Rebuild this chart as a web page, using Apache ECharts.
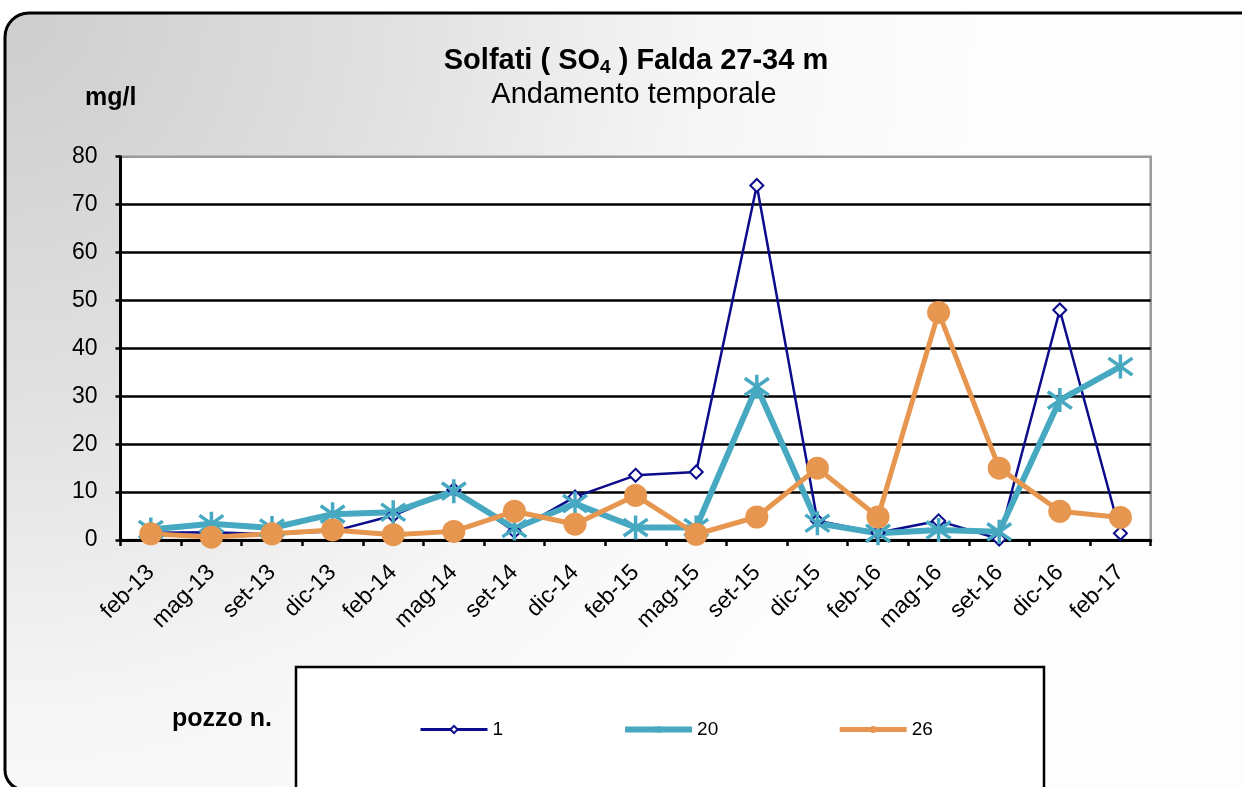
<!DOCTYPE html>
<html>
<head>
<meta charset="utf-8">
<title>Solfati Falda 27-34 m</title>
<script src="https://cdn.jsdelivr.net/npm/echarts@6/dist/echarts.min.js"></script>
<style>
    html, body { margin: 0; padding: 0; background: #fff; }
    #chart { width: 1242px; height: 787px; }
</style>
</head>
<body>
<div id="chart"></div>
<script>
// date di campionamento (asse X)
var categories = ['feb-13', 'mag-13', 'set-13', 'dic-13', 'feb-14', 'mag-14', 'set-14', 'dic-14',
    'feb-15', 'mag-15', 'set-15', 'dic-15', 'feb-16', 'mag-16', 'set-16', 'dic-16', 'feb-17'];

// solfati mg/l per pozzo
var pozzo1 = [1.5, 1.6, 1.2, 1.8, 5.1, 10.5, 1.8, 9, 13.5, 14.2, 74, 4, 1.5, 4, 0.2, 48, 1.4];
var pozzo20 = [2.2, 3.4, 2.5, 5.4, 5.8, 10.2, 2.4, 7.6, 2.6, 2.6, 32, 3.5, 1.4, 2.1, 1.7, 29.2, 36.2];
var pozzo26 = [1.3, 0.6, 1.3, 2.1, 1.1, 1.8, 6, 3.3, 9.3, 1.2, 4.8, 15, 4.8, 47.5, 15, 6, 4.7];

var yTicks = { min: 0, max: 80, step: 10 };

var FONT = '"Liberation Sans", Arial, sans-serif';
// asterisco (marker "star" di Excel)
var starPath = 'path://M10,0 L10,20 M0,3 L20,17 M0,17 L20,3';

var myChart = echarts.init(document.getElementById('chart'));

var option = {
    backgroundColor: '#ffffff',
    textStyle: { fontFamily: FONT, color: '#000' },
    animation: false,
    title: [
        {
            text: '{a|Solfati ( SO}{s|4}{a| ) Falda 27-34 m}',
            left: 636,
            top: 44,
            padding: 0,
            textAlign: 'center',
            textStyle: {
                rich: {
                    a: { fontSize: 29, fontWeight: 'bold', fontFamily: FONT, color: '#000', lineHeight: 33 },
                    s: { fontSize: 19, fontWeight: 'bold', fontFamily: FONT, color: '#000', lineHeight: 33, padding: [14, 0, 0, 0] }
                }
            }
        },
        {
            text: 'Andamento temporale',
            left: 634,
            top: 80,
            padding: 0,
            textAlign: 'center',
            textStyle: { fontSize: 29, fontWeight: 'normal', fontFamily: FONT, color: '#000' }
        },
        {
            text: 'mg/l',
            left: 85,
            top: 86,
            padding: 0,
            textStyle: { fontSize: 25, fontWeight: 'bold', fontFamily: FONT, color: '#000' }
        },
        {
            text: 'pozzo n.',
            left: 172,
            top: 707,
            padding: 0,
            textStyle: { fontSize: 25, fontWeight: 'bold', fontFamily: FONT, color: '#000' }
        }
    ],
    graphic: [
        {
            // cornice esterna con sfumatura grigia
            type: 'rect',
            z: -100,
            shape: { x: 5, y: 13, width: 1300, height: 777, r: [24, 0, 0, 20] },
            style: {
                fill: new echarts.graphic.RadialGradient(5, 13, 980, [
                    { offset: 0, color: '#cdcdcd' },
                    { offset: 0.4, color: '#e1e1e1' },
                    { offset: 0.72, color: '#f6f6f6' },
                    { offset: 1, color: '#fdfdfd' }
                ], true),
                stroke: '#000',
                lineWidth: 3
            }
        },
        {
            // riquadro legenda
            type: 'rect',
            z: -50,
            shape: { x: 296, y: 667, width: 748, height: 200 },
            style: { fill: '#fff', stroke: '#000', lineWidth: 2.5 }
        }
    ],
    legend: {
        left: 419,
        top: 720,
        itemWidth: 67,
        itemHeight: 9,
        itemGap: 119,
        padding: 0,
        textStyle: { fontSize: 19, fontFamily: FONT, color: '#000' },
        data: [
            { name: '1', lineStyle: { width: 3 } },
            { name: '20', lineStyle: { width: 6 } },
            { name: '26', lineStyle: { width: 5 } }
        ]
    },
    grid: {
        left: 120.5,
        top: 156.7,
        right: 91.3,
        bottom: 247,
        show: true,
        backgroundColor: '#fff',
        borderColor: '#9a9a9a',
        borderWidth: 2.5
    },
    xAxis: {
        type: 'category',
        data: categories,
        boundaryGap: true,
        axisLine: { lineStyle: { color: '#000', width: 3 } },
        axisTick: { show: true, length: 6, lineStyle: { color: '#000', width: 2.5 } },
        axisLabel: {
            rotate: 45,
            interval: 0,
            margin: 29,
            fontSize: 23,
            fontFamily: FONT,
            color: '#000'
        },
        splitLine: { show: false }
    },
    yAxis: {
        type: 'value',
        min: yTicks.min,
        max: yTicks.max,
        interval: yTicks.step,
        axisLine: { show: true, lineStyle: { color: '#000', width: 3 } },
        axisTick: { show: true, length: 5, lineStyle: { color: '#000', width: 2.5 } },
        axisLabel: { margin: 23, fontSize: 23, fontFamily: FONT, color: '#000' },
        splitLine: { show: true, showMaxLine: false, lineStyle: { color: '#000', width: 2.5 } }
    },
    series: [
        {
            name: '1',
            type: 'line',
            data: pozzo1,
            symbol: 'emptyDiamond',
            symbolSize: 13,
            lineStyle: { color: '#0b0b8c', width: 2.5 },
            itemStyle: { color: '#0b0b8c', borderColor: '#0b0b8c', borderWidth: 2.4 }
        },
        {
            name: '20',
            type: 'line',
            data: pozzo20,
            symbol: starPath,
            symbolSize: 24,
            lineStyle: { color: '#47a9c1', width: 6 },
            itemStyle: { color: '#47a9c1', borderColor: '#47a9c1', borderWidth: 3.5 }
        },
        {
            name: '26',
            type: 'line',
            data: pozzo26,
            symbol: 'circle',
            symbolSize: 23,
            lineStyle: { color: '#e7964f', width: 5 },
            itemStyle: { color: '#e7964f' }
        }
    ]
};

myChart.setOption(option);
</script>
</body>
</html>
